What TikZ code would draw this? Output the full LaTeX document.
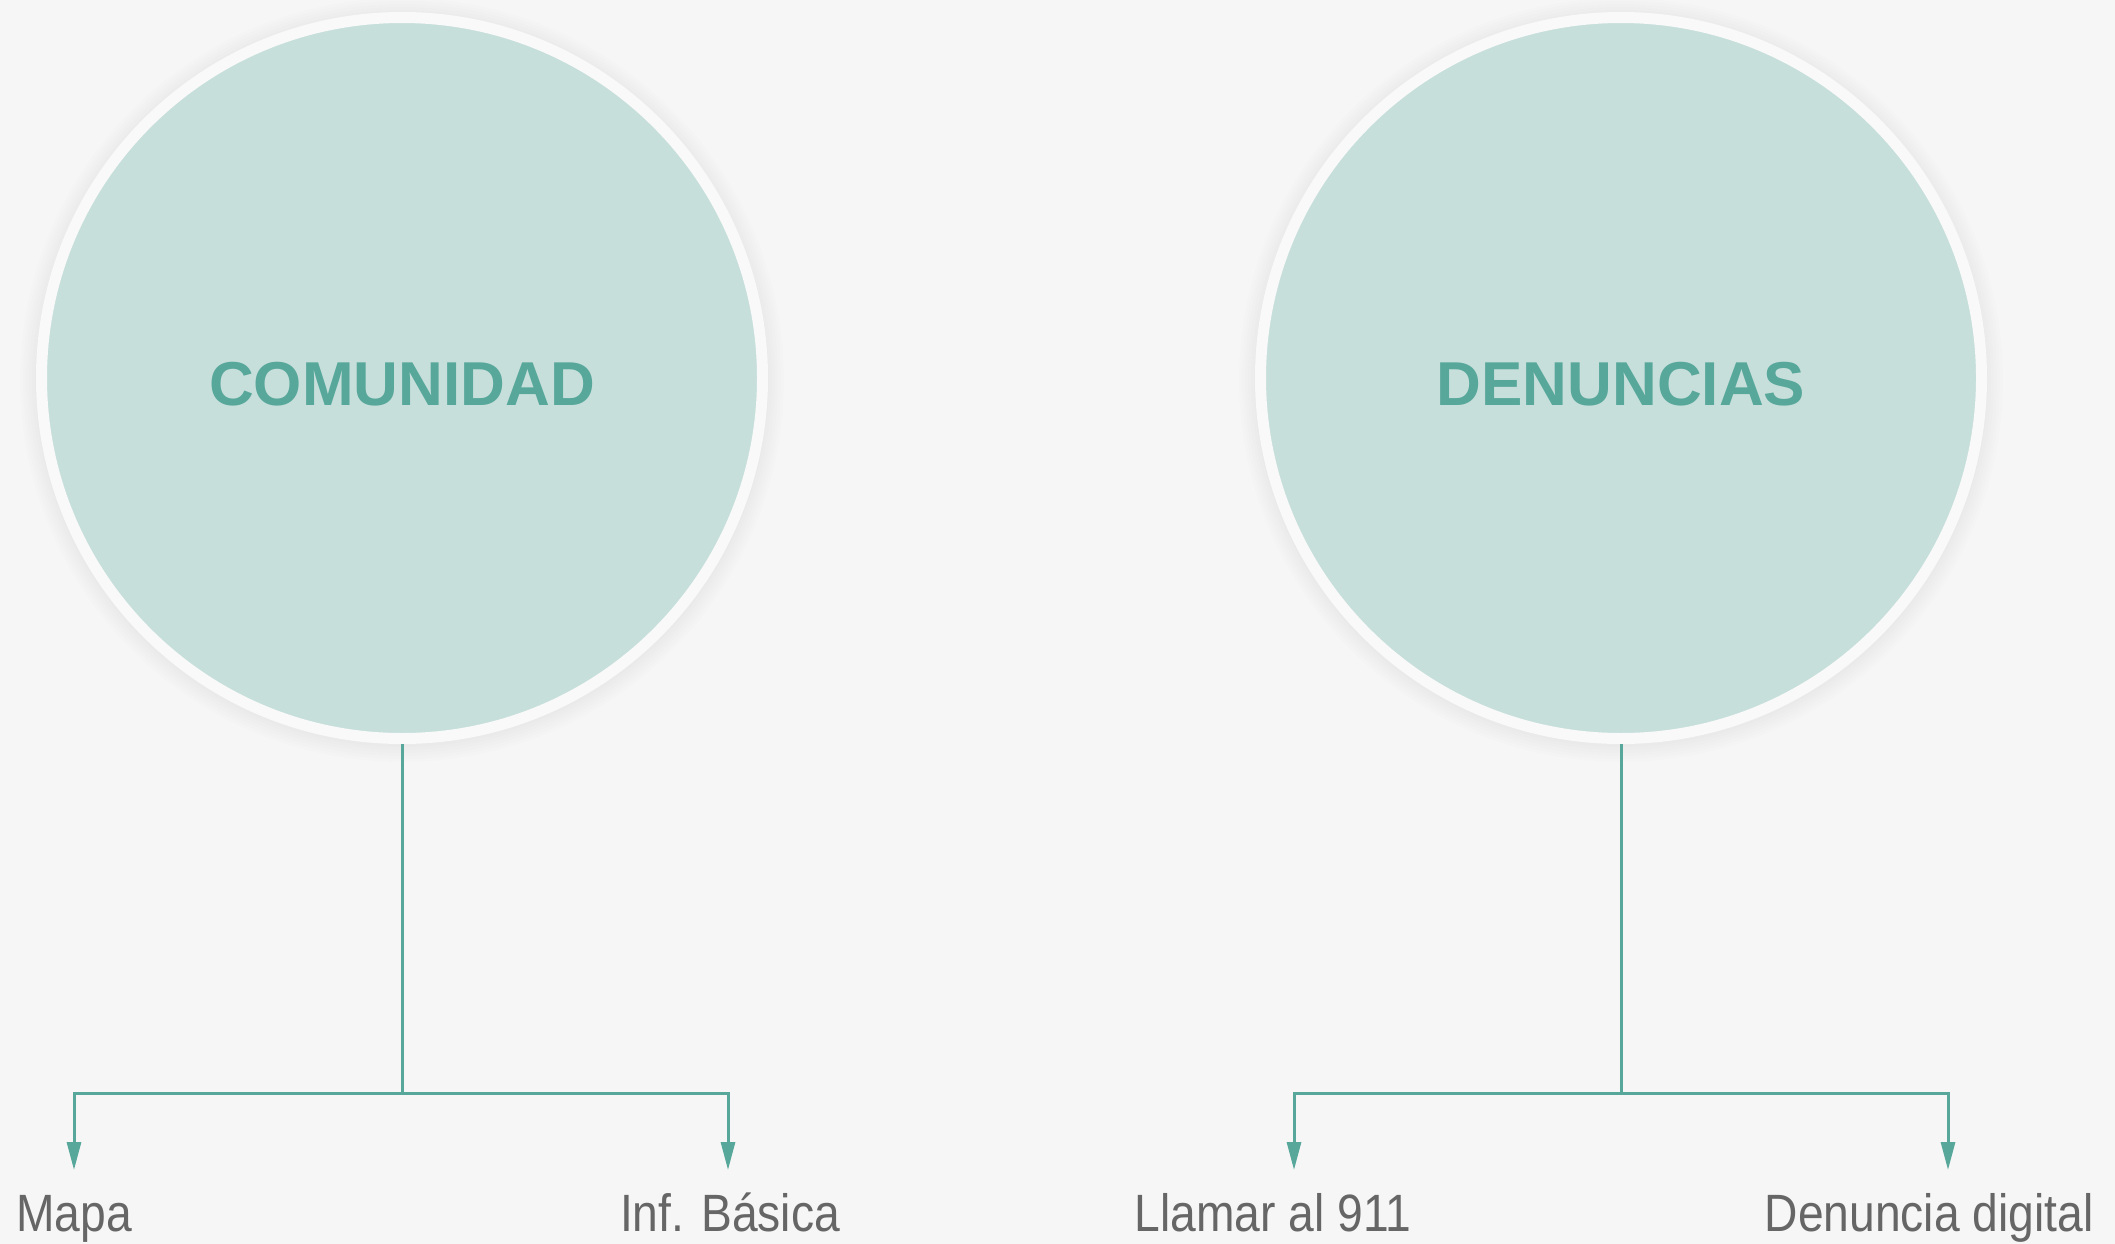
\documentclass[tikz,border=0pt]{standalone}
\usepackage{fontspec}
\setmainfont{Liberation Sans}
\newfontfamily\labelfont[FakeStretch=0.88]{Liberation Sans}
\usetikzlibrary{arrows.meta}
\definecolor{bg}{HTML}{F6F6F6}
\definecolor{disc}{HTML}{C7DFDB}
\definecolor{ringc}{HTML}{F9F9F9}
\definecolor{tealc}{HTML}{57A79B}
\definecolor{labelgray}{HTML}{666666}
\begin{document}
\begin{tikzpicture}[x=1pt,y=-1pt,
  topic/.style={circle, minimum size=721pt, inner sep=0pt, fill=disc, draw=ringc, line width=11pt,
    text=tealc, font=\fontsize{62}{70}\selectfont\bfseries, text height=54pt, text depth=0pt},
  leaf/.style={text=labelgray, font=\labelfont\fontsize{52.5}{60}\selectfont, inner sep=0pt, anchor=base},
  link/.style={draw=tealc, line width=3pt},
  arrowlink/.style={link, -{Triangle[length=28pt,width=14pt]}},
  shadowring/.style={fill=black, opacity=0.009}]
\fill[bg] (0,0) rectangle (2115,1244);
\useasboundingbox (0,0) rectangle (2115,1244);
% soft shadows
\foreach \r in {367,370,373,376,379,382}{
  \fill[shadowring] (402,380) circle (\r);
  \fill[shadowring] (1621,380) circle (\r);
}
\node[topic] (c1) at (402,378) {COMUNIDAD};
\node[topic] (c2) at (1621,378) {DENUNCIAS};
\coordinate (j1) at (c1.south |- 0,1093);
\coordinate (j2) at (c2.south |- 0,1093);
\coordinate (a1) at (74,1170);
\coordinate (a2) at (728,1170);
\coordinate (a3) at (1294,1170);
\coordinate (a4) at (1948,1170);
\node[leaf] (l1) at (74,1231) {Mapa};
\node[leaf] (l2) at (730,1231) {Inf. Básica};
\node[leaf] (l3) at (1273,1231) {Llamar al 911};
\node[leaf] (l4) at (1929,1231) {Denuncia digital};
\draw[link] (c1.south) -- (j1);
\draw[link] (c2.south) -- (j2);
\draw[arrowlink] (j1) -| (a1);
\draw[arrowlink] (j1) -| (a2);
\draw[arrowlink] (j2) -| (a3);
\draw[arrowlink] (j2) -| (a4);
\end{tikzpicture}
\end{document}
